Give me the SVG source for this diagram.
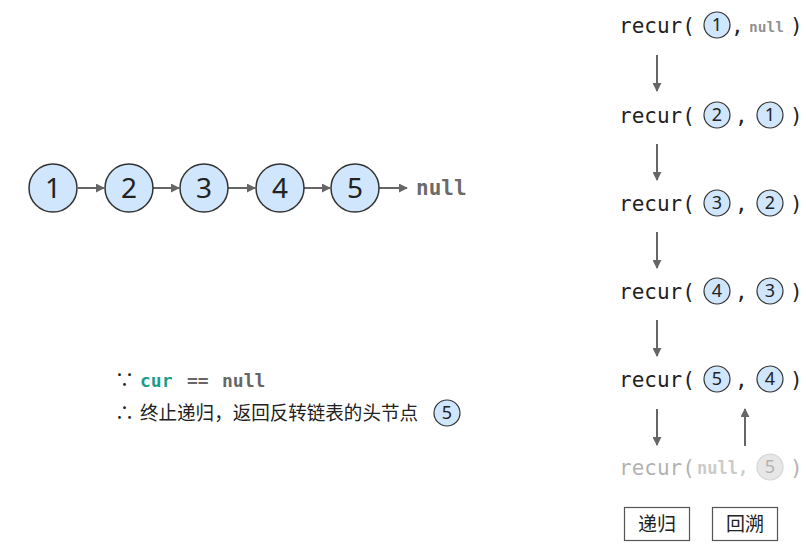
<svg xmlns="http://www.w3.org/2000/svg" width="807" height="546" viewBox="0 0 807 546">
<defs>
<style>
.big{fill:#cfe6fd;stroke:#333;stroke-width:1.5}
.sm{fill:#cfe6fd;stroke:#333;stroke-width:1.2}
.bn{font-family:"Noto Sans","DejaVu Sans",sans-serif;font-size:28px;fill:#222;text-anchor:middle}
.sn{font-family:"Noto Sans","DejaVu Sans",sans-serif;font-size:18px;fill:#222;text-anchor:middle}
.mono{font-family:"DejaVu Sans Mono","Liberation Mono",monospace;font-size:21px;fill:#222}
.nul{font-family:"DejaVu Sans Mono","Liberation Mono",monospace;font-weight:bold;fill:#6b6b6b}
.con{stroke:#666;stroke-width:2;fill:none}
.cn{font-family:"Noto Sans CJK SC","Noto Sans",sans-serif;font-size:19px;fill:#222}
</style>
<marker id="ah" viewBox="0 0 10 10" refX="9" refY="5" markerWidth="4.5" markerHeight="4.5" orient="auto"><path d="M0,0L10,5L0,10z" fill="#666"/></marker>
</defs>
<rect width="807" height="546" fill="#fff"/>
<g id="connectors">
<line class="con" x1="78" y1="188" x2="104" y2="188" marker-end="url(#ah)"/>
<line class="con" x1="153" y1="188" x2="179" y2="188" marker-end="url(#ah)"/>
<line class="con" x1="228" y1="188" x2="255" y2="188" marker-end="url(#ah)"/>
<line class="con" x1="304" y1="188" x2="330" y2="188" marker-end="url(#ah)"/>
<line class="con" x1="379" y1="188" x2="407" y2="188" marker-end="url(#ah)"/>
<line class="con" x1="657" y1="55" x2="657" y2="91" marker-end="url(#ah)"/>
<line class="con" x1="657" y1="144" x2="657" y2="180" marker-end="url(#ah)"/>
<line class="con" x1="657" y1="232" x2="657" y2="268" marker-end="url(#ah)"/>
<line class="con" x1="657" y1="320" x2="657" y2="356" marker-end="url(#ah)"/>
<line class="con" x1="657" y1="409" x2="657" y2="445" marker-end="url(#ah)"/>
<line class="con" x1="745" y1="446" x2="745" y2="409" marker-end="url(#ah)"/>
</g>
<g id="n1"><circle class="big" cx="53" cy="188" r="24"/><text class="bn" x="53" y="198">1</text></g>
<g id="n2"><circle class="big" cx="129" cy="188" r="24"/><text class="bn" x="129" y="198">2</text></g>
<g id="n3"><circle class="big" cx="204" cy="188" r="24"/><text class="bn" x="204" y="198">3</text></g>
<g id="n4"><circle class="big" cx="280" cy="188" r="24"/><text class="bn" x="280" y="198">4</text></g>
<g id="n5"><circle class="big" cx="355" cy="188" r="24"/><text class="bn" x="355" y="198">5</text></g>
<g id="null"><text class="nul" x="416" y="195" font-size="21">null</text></g>

<g id="r1"><text class="mono" x="619" y="33">recur(</text><circle class="sm" cx="717" cy="25" r="13"/><text class="sn" x="717" y="31">1</text><text class="mono" x="731" y="33">,</text><text class="nul" x="749" y="32" font-size="14.5" fill-opacity="0.75">null</text><text class="mono" x="790" y="33">)</text></g>
<g id="r2"><text class="mono" x="619" y="123">recur(</text><circle class="sm" cx="717" cy="115" r="13"/><text class="sn" x="717" y="121">2</text><text class="mono" x="735" y="123">,</text><circle class="sm" cx="770" cy="115" r="13"/><text class="sn" x="770" y="121">1</text><text class="mono" x="790" y="123">)</text></g>
<g id="r3"><text class="mono" x="619" y="211">recur(</text><circle class="sm" cx="717" cy="203" r="13"/><text class="sn" x="717" y="209">3</text><text class="mono" x="735" y="211">,</text><circle class="sm" cx="770" cy="203" r="13"/><text class="sn" x="770" y="209">2</text><text class="mono" x="790" y="211">)</text></g>
<g id="r4"><text class="mono" x="619" y="299">recur(</text><circle class="sm" cx="717" cy="291" r="13"/><text class="sn" x="717" y="297">4</text><text class="mono" x="735" y="299">,</text><circle class="sm" cx="770" cy="291" r="13"/><text class="sn" x="770" y="297">3</text><text class="mono" x="790" y="299">)</text></g>
<g id="r5"><text class="mono" x="619" y="387">recur(</text><circle class="sm" cx="717" cy="379" r="13"/><text class="sn" x="717" y="385">5</text><text class="mono" x="735" y="387">,</text><circle class="sm" cx="770" cy="379" r="13"/><text class="sn" x="770" y="385">4</text><text class="mono" x="790" y="387">)</text></g>
<g id="r6" opacity="0.35"><text class="mono" x="619" y="475">recur(</text><text class="nul" x="697" y="474" font-size="17" fill="#222">null,</text><circle cx="770" cy="467" r="13" fill="#bbb" stroke="#888" stroke-width="1.2"/><text class="sn" x="770" y="473">5</text><text class="mono" x="790" y="475">)</text></g>

<g id="b1"><rect x="624.5" y="507.5" width="65" height="33" fill="#fff" stroke="#555" stroke-width="1.2"/><text class="cn" x="657" y="531" text-anchor="middle" font-size="20">递归</text></g>
<g id="b2"><rect x="712.5" y="507.5" width="65" height="33" fill="#fff" stroke="#555" stroke-width="1.2"/><text class="cn" x="745" y="531" text-anchor="middle" font-size="20">回溯</text></g>

<g id="note">
<text class="cn" x="115" y="387" font-size="17">∵</text>
<text x="140" y="387" font-family="DejaVu Sans Mono,monospace" font-weight="bold" font-size="18" fill="#1b9e8c">cur</text>
<text x="187" y="387" font-family="DejaVu Sans Mono,monospace" font-weight="bold" font-size="18" fill="#666">==</text>
<text x="222" y="387" font-family="DejaVu Sans Mono,monospace" font-weight="bold" font-size="18" fill="#666">null</text>
<text class="cn" x="115" y="420" font-size="17">∴</text>
<text class="cn" x="140" y="420" textLength="278" lengthAdjust="spacingAndGlyphs">终止递归，返回反转链表的头节点</text>
<circle class="sm" cx="447" cy="413" r="13"/><text class="sn" x="447" y="419">5</text>
</g>
</svg>
